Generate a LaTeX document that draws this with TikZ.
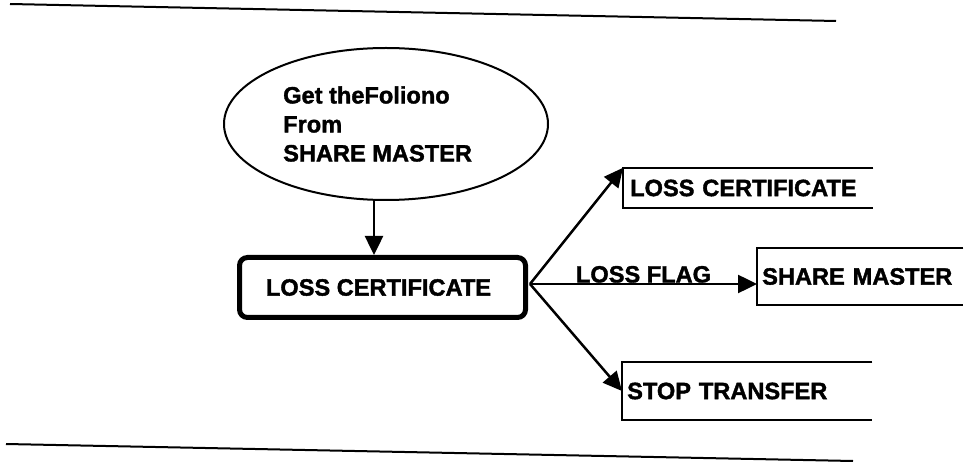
\documentclass[tikz,border=0pt]{standalone}
\usepackage{fontspec}
\setmainfont{Liberation Sans}[BoldFeatures={FakeBold=1.6}]
\usetikzlibrary{shapes.geometric,arrows.meta}
\tikzset{
  boxtext/.style = {font=\bfseries\fontsize{23.6}{29}\selectfont, inner sep=0pt},
  rule/.style = {line width=2pt},
  flow/.style = {-{Triangle[length=19pt,width=18pt]}, line width=2.5pt},
  openbox/.style = {boxtext, anchor=west, align=left, inner ysep=0pt},
}
\begin{document}
\begin{tikzpicture}[x=1pt, y=-1pt]
    \useasboundingbox (0,0) rectangle (964,462);
    \draw[rule] (10,4) -- (836,21);
    \draw[rule] (6,444) -- (853,461);
    \node[draw, ellipse, line width=2pt, minimum width=324pt, minimum height=152pt, inner sep=0pt] (folio) at (386,124) {};
    \node[boxtext, align=left, anchor=west] (foliotext) at (283,124) {Get theFoliono\\From\\SHARE MASTER};
    \node[boxtext, draw, line width=5pt, rounded corners=8pt, minimum width=286pt, minimum height=60pt] (lc) at (382.5,287.5) {LOSS CERTIFICATE\hspace*{8pt}};
    \node[openbox, text width=236pt, inner xsep=7pt, minimum height=40pt] (lcout) at (623,188) {LOSS CERTIFICATE};
    \node[openbox, text width=196pt, inner xsep=5pt, minimum height=57pt] (sm) at (757,276.5) {SHARE MASTER};
    \node[openbox, text width=240pt, inner xsep=5pt, minimum height=58pt] (st) at (622,391) {STOP TRANSFER};
    \foreach \n in {lcout, sm, st}
      \draw[rule] (\n.north east) -- (\n.north west) -- (\n.south west) -- (\n.south east);
    \coordinate (drop) at (374,200);
    \coordinate (split) at (530,284);
    \draw[flow] (drop |- folio.south) -- (drop |- lc.north);
    \draw[flow] (split) -- (lcout.north west);
    \draw[flow] (split) -- (split -| sm.west) node[midway, above, boxtext] {LOSS FLAG};
    \draw[flow] (split) -- (st.west);
  \end{tikzpicture}
\end{document}
